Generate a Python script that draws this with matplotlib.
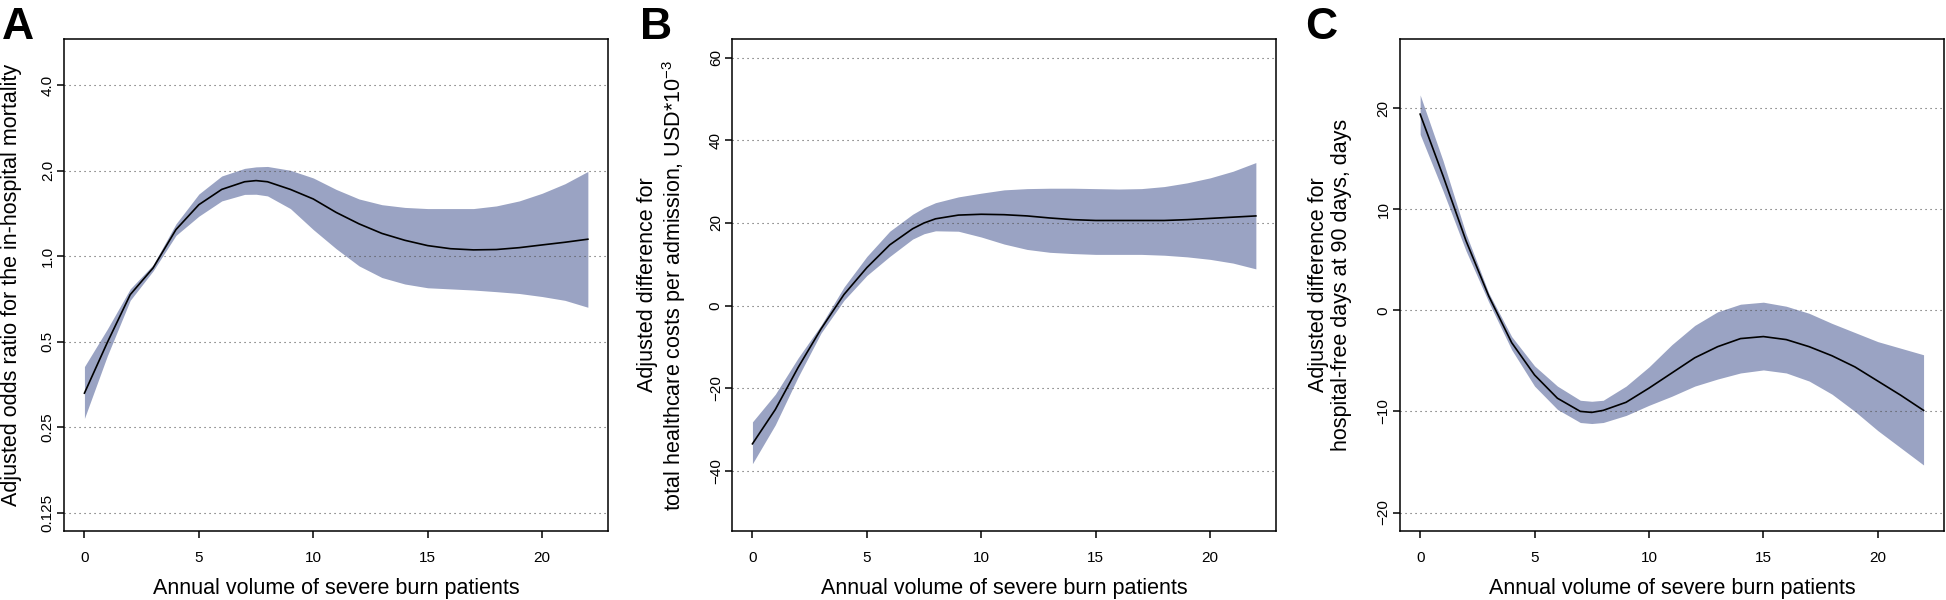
import math
import matplotlib
matplotlib.use("Agg")
import matplotlib.pyplot as plt
from matplotlib.ticker import NullLocator

plt.rcParams['font.family'] = ['Liberation Sans', 'DejaVu Sans']
plt.rcParams['mathtext.fontset'] = 'custom'
plt.rcParams['mathtext.rm'] = 'Liberation Sans'
plt.rcParams['mathtext.it'] = 'Liberation Sans:italic'
plt.rcParams['mathtext.bf'] = 'Liberation Sans:bold'

# ---------------- data ----------------
volume = [0, 1, 2, 3, 4, 5, 6, 7, 7.5, 8, 9, 10, 11, 12, 13, 14, 15, 16, 17, 18, 19, 20, 21, 22]

# Panel A: adjusted odds ratio for in-hospital mortality
or_fit = [0.329, 0.496, 0.731, 0.908, 1.239, 1.516, 1.716, 1.826, 1.843, 1.826, 1.716, 1.588,
          1.424, 1.298, 1.201, 1.136, 1.088, 1.061, 1.051, 1.054, 1.070, 1.094, 1.118, 1.146]
or_upper = [0.408, 0.553, 0.766, 0.931, 1.298, 1.653, 1.913, 2.035, 2.060, 2.067, 2.004, 1.883,
            1.716, 1.588, 1.516, 1.483, 1.469, 1.469, 1.469, 1.501, 1.563, 1.663, 1.797, 1.985]
or_lower = [0.268, 0.445, 0.698, 0.886, 1.182, 1.381, 1.563, 1.648, 1.650, 1.628, 1.469, 1.239,
            1.061, 0.923, 0.840, 0.797, 0.773, 0.766, 0.759, 0.749, 0.738, 0.720, 0.698, 0.660]

# Panel B: adjusted difference in total healthcare costs (USD*10^-3)
cost_fit = [-33.4, -25.1, -14.9, -5.6, 2.7, 9.2, 14.7, 18.6, 20.0, 21.0, 21.9, 22.1,
            22.0, 21.7, 21.2, 20.8, 20.6, 20.6, 20.6, 20.6, 20.8, 21.1, 21.4, 21.7]
cost_upper = [-28.1, -21.4, -12.6, -4.7, 4.5, 11.9, 18.0, 22.1, 23.7, 24.9, 26.3, 27.2,
              28.0, 28.3, 28.4, 28.4, 28.3, 28.2, 28.3, 28.8, 29.7, 30.9, 32.5, 34.6]
cost_lower = [-38.2, -28.8, -17.2, -6.6, 1.3, 7.3, 11.9, 16.1, 17.4, 18.1, 18.0, 16.6,
              14.9, 13.6, 12.9, 12.6, 12.4, 12.4, 12.4, 12.2, 11.8, 11.2, 10.3, 8.9]

# Panel C: adjusted difference in hospital-free days at 90 days
hfd_fit = [19.4, 13.3, 6.9, 1.4, -3.2, -6.4, -8.7, -10.0, -10.1, -9.9, -9.1, -7.7,
           -6.2, -4.7, -3.6, -2.8, -2.6, -2.9, -3.6, -4.5, -5.6, -7.0, -8.4, -9.9]
hfd_upper = [21.3, 14.8, 7.6, 1.7, -2.6, -5.5, -7.5, -8.9, -9.0, -8.9, -7.5, -5.6,
             -3.4, -1.5, -0.15, 0.6, 0.8, 0.4, -0.3, -1.3, -2.2, -3.1, -3.75, -4.4]
hfd_lower = [17.4, 11.8, 5.9, 0.8, -3.9, -7.5, -9.8, -11.1, -11.2, -11.1, -10.4, -9.4,
             -8.5, -7.5, -6.8, -6.2, -5.9, -6.2, -7.0, -8.3, -10.0, -11.9, -13.6, -15.3]

x_ticks = [0, 5, 10, 15, 20]
a_ticks = [0.125, 0.25, 0.5, 1.0, 2.0, 4.0]
a_ticklabels = ['0.125', '0.25', '0.5', '1.0', '2.0', '4.0']
b_ticks = [-40, -20, 0, 20, 40, 60]
c_ticks = [-20, -10, 0, 10, 20]

xlabel = 'Annual volume of severe burn patients'
ylabels = ['Adjusted odds ratio for the in-hospital mortality',
           'Adjusted difference for\ntotal healthcare costs per admission, USD*10$^{-3}$',
           'Adjusted difference for\nhospital-free days at 90 days, days']
letters = ['A', 'B', 'C']

# ---------------- figure ----------------
W, H = 1946, 600
band_color = '#9aa3c3'
fig = plt.figure(figsize=(W / 100, H / 100), dpi=100)

ax_top_px, ax_bot_px, ax_w_px = 39.3, 530.7, 543.7
lefts_px = [64.3, 732.3, 1400.0]
letter_x_px = [2, 640, 1305]
ylabel_x = [-0.077, -0.082, -0.089]

panels = [
    (or_fit, or_upper, or_lower, a_ticks, a_ticklabels),
    (cost_fit, cost_upper, cost_lower, b_ticks, [str(t).replace('-', '\u2212') for t in b_ticks]),
    (hfd_fit, hfd_upper, hfd_lower, c_ticks, [str(t).replace('-', '\u2212') for t in c_ticks]),
]

def padded(lo, hi, frac=0.04):
    d = (hi - lo) * frac
    return lo - d, hi + d

for i, (fit, up, lo, yt, ytl) in enumerate(panels):
    rect = [lefts_px[i] / W, 1 - ax_bot_px / H, ax_w_px / W, (ax_bot_px - ax_top_px) / H]
    ax = fig.add_axes(rect)
    ax.fill_between(volume, lo, up, color=band_color, linewidth=0, zorder=1)
    ax.plot(volume, fit, color='black', linewidth=1.2, zorder=3)
    if i == 0:
        ax.set_yscale('log', base=2)
        l0, l1 = padded(math.log2(0.125), math.log2(5.0))
        ax.set_ylim(2 ** l0, 2 ** l1)
        ax.yaxis.set_minor_locator(NullLocator())
    elif i == 1:
        ax.set_ylim(*padded(-50, 60))
    else:
        ax.set_ylim(*padded(-20, 25))
    ax.set_xlim(*padded(0, 22))
    for t in yt:
        ax.axhline(t, color='#555555', linestyle=(0, (1, 3.5)), linewidth=0.8, zorder=2)
    ax.set_yticks(yt)
    ax.set_yticklabels(ytl, rotation=90, va='center')
    ax.set_xticks(x_ticks)
    ax.set_xticklabels([str(t) for t in x_ticks])
    ax.tick_params(axis='both', direction='out', length=5.3, width=1.1, labelsize=11)
    ax.tick_params(axis='x', pad=9)
    ax.tick_params(axis='y', pad=1.5)
    for s in ax.spines.values():
        s.set_linewidth(1.1)
    ax.set_xlabel(xlabel, fontsize=15.5)
    ax.xaxis.set_label_coords(0.5, -0.096)
    ax.set_ylabel(ylabels[i], fontsize=15.5, linespacing=1.1)
    ax.yaxis.set_label_coords(ylabel_x[i], 0.5)
    fig.text(letter_x_px[i] / W, 1 - 39 / H, letters[i], fontsize=32,
             fontweight='bold', va='baseline', ha='left')

fig.savefig('out.png', dpi=100)
